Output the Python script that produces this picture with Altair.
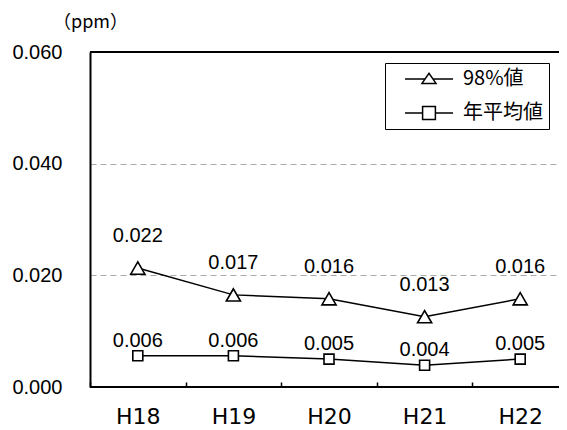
import altair as alt
import pandas as pd

years = ["H18", "H19", "H20", "H21", "H22"]
series_names = ["98%値", "年平均値"]
p98_values = [0.0213, 0.0165, 0.0158, 0.0126, 0.0158]
p98_labels = ["0.022", "0.017", "0.016", "0.013", "0.016"]
mean_values = [0.0056, 0.0056, 0.0050, 0.0039, 0.0050]
mean_labels = ["0.006", "0.006", "0.005", "0.004", "0.005"]
y_ticks = [0.0, 0.02, 0.04, 0.06]
border_values = [0.0, 0.06]

rows = []
for y, v, l in zip(years, p98_values, p98_labels):
    rows.append({"year": y, "series": series_names[0], "value": v, "label": l})
for y, v, l in zip(years, mean_values, mean_labels):
    rows.append({"year": y, "series": series_names[1], "value": v, "label": l})
df = pd.DataFrame(rows)

NUM_FONT = "Liberation Sans"
JP_FONT = "Noto Sans CJK JP"

# the category bands run a little past the right edge of the visible frame
xscale = alt.Scale(domain=years, range=[0, 478], paddingInner=0, paddingOuter=0)
yscale = alt.Scale(domain=[0, 0.06], nice=False)

x_enc = alt.X(
    "year:N", scale=xscale, sort=years, title=None,
    axis=alt.Axis(labelAngle=0, domain=False, ticks=True, tickBand="extent",
                  tickSize=5, tickColor="black", tickWidth=1.5, offset=-5,
                  labelPadding=36, labelBaseline="alphabetic",
                  labelFont="DejaVu Sans", labelFontSize=22, labelColor="black",
                  grid=False),
)
y_enc = alt.Y(
    "value:Q", scale=yscale,
    axis=alt.Axis(values=y_ticks, format=".3f", ticks=False, labelPadding=28,
                  labelFont=NUM_FONT, labelFontSize=20, labelColor="black",
                  domainColor="black", domainWidth=2, grid=True, gridColor="#aaaaaa",
                  gridDash=[6, 4], gridWidth=1.2,
                  title="（ppm）", titleAngle=0, titleX=0, titleY=-30,
                  titleAlign="center", titleBaseline="middle", titleFont=JP_FONT,
                  titleFontSize=18, titleFontWeight="normal", titleColor="black"),
)

base = alt.Chart(df)

lines = base.mark_line(color="black", strokeWidth=1.5).encode(
    x=x_enc, y=y_enc, detail="series:N"
)

tri = base.transform_filter(alt.datum.series == series_names[0]).mark_point(
    shape="triangle-up", size=200, filled=True, fill="white", stroke="black",
    strokeWidth=1.6, opacity=1,
).encode(x=alt.X("year:N", sort=years), y="value:Q")

sq = base.transform_filter(alt.datum.series == series_names[1]).mark_point(
    shape="square", size=100, filled=True, fill="white", stroke="black",
    strokeWidth=1.6, opacity=1,
).encode(x=alt.X("year:N", sort=years), y="value:Q")

tri_text = base.transform_filter(alt.datum.series == series_names[0]).mark_text(
    font=NUM_FONT, fontSize=20, color="black", dy=-32, baseline="middle"
).encode(x=alt.X("year:N", sort=years), y="value:Q", text="label:N")

sq_text = base.transform_filter(alt.datum.series == series_names[1]).mark_text(
    font=NUM_FONT, fontSize=20, color="black", dy=-15, baseline="middle"
).encode(x=alt.X("year:N", sort=years), y="value:Q", text="label:N")

# legend symbols: a short line with the marker in its middle (unit = 8px)
tri_path = "M0.5,0L3.01,0M3.99,0L6.5,0M2.625,0.55L3.5,-0.7L4.375,0.55Z"
sq_path = "M0.5,0L2.7,0M4.3,0L6.5,0M2.7,-0.8L4.3,-0.8L4.3,0.8L2.7,0.8Z"

legend_layer = base.transform_filter("false").mark_point(
    filled=False, color="black", strokeWidth=1.5, opacity=1
).encode(
    x=alt.X("year:N", sort=years), y="value:Q",
    shape=alt.Shape(
        "series:N",
        scale=alt.Scale(domain=series_names, range=[tri_path, sq_path]),
        legend=alt.Legend(
            title=None, orient="none", legendX=295, legendY=11,
            strokeColor="black", fillColor="white", padding=6,
            symbolSize=256, symbolStrokeWidth=1.5, symbolStrokeColor="black",
            symbolOpacity=1,
            labelFont=JP_FONT, labelFontSize=20, labelColor="black",
            labelOffset=52, rowPadding=14,
        ),
    ),
)

borders = alt.Chart(pd.DataFrame({"v": border_values})).mark_rule(
    color="black", strokeWidth=2
).encode(y=alt.Y("v:Q"))

chart = alt.layer(
    lines, borders, tri, sq, tri_text, sq_text, legend_layer
).resolve_scale(shape="independent").properties(
    width=469, height=335,
    padding={"left": 82, "top": 44, "right": 0, "bottom": 40},
    autosize=alt.AutoSizeParams(type="none"),
    background="white",
).configure_view(stroke=None)

chart.save("out.html", embed_options={"renderer": "svg", "actions": False})
